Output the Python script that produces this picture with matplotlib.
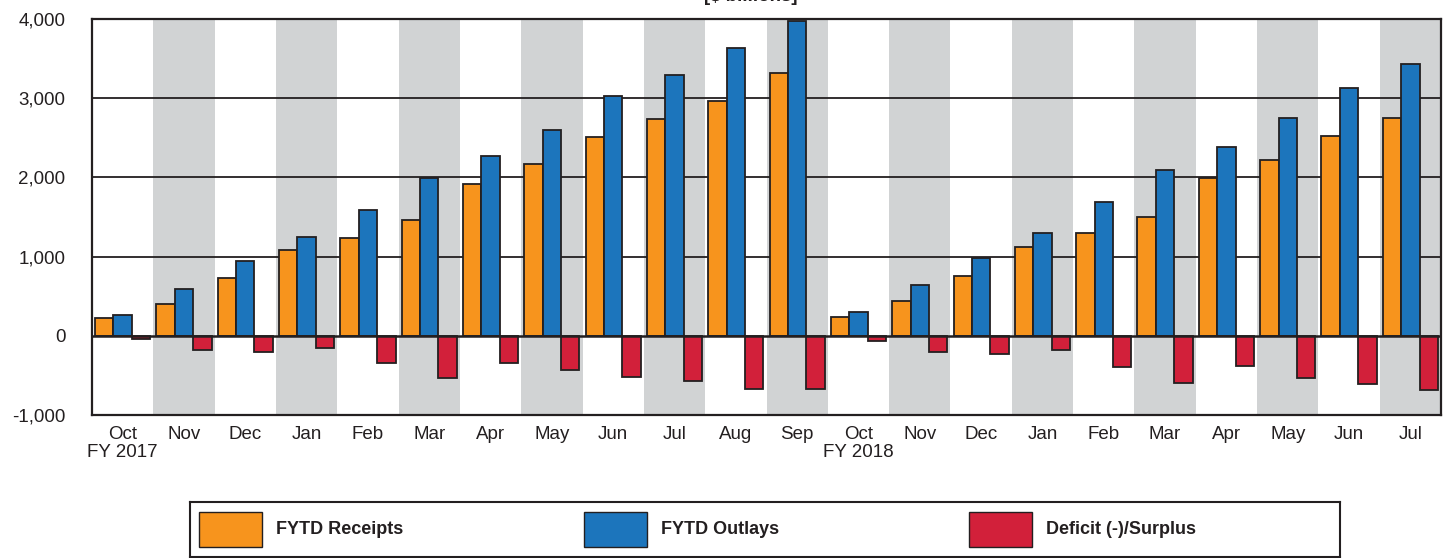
import numpy as np
import matplotlib
matplotlib.use('Agg')
import matplotlib.pyplot as plt
from matplotlib.patches import Rectangle

plt.rcParams['font.family'] = ['Liberation Sans', 'DejaVu Sans']

MONTHS = ['Oct\nFY 2017', 'Nov', 'Dec', 'Jan', 'Feb', 'Mar', 'Apr', 'May', 'Jun', 'Jul', 'Aug', 'Sep',
          'Oct\nFY 2018', 'Nov', 'Dec', 'Jan', 'Feb', 'Mar', 'Apr', 'May', 'Jun', 'Jul']

# fiscal year to date, $ billions
RECEIPTS = [221, 405, 735, 1087, 1237, 1465, 1920, 2170, 2508, 2732, 2960, 3315,
            235, 438, 760, 1122, 1297, 1497, 1998, 2222, 2525, 2752]
OUTLAYS = [266, 588, 942, 1245, 1586, 1992, 2264, 2603, 3031, 3298, 3634, 3981,
           298, 639, 985, 1298, 1688, 2097, 2383, 2754, 3132, 3436]
DEFICIT = [-45, -183, -207, -158, -349, -527, -344, -433, -523, -566, -674, -666,
           -63, -201, -225, -176, -391, -600, -385, -532, -607, -684]

YTICKS = [-1000, 0, 1000, 2000, 3000, 4000]
LABELS = ['FYTD Receipts', 'FYTD Outlays', 'Deficit (-)/Surplus']

ORANGE = '#F7941D'
BLUE = '#1C75BC'
RED = '#D2203A'
GREY = '#D1D3D4'
DARK = '#231F20'

fig = plt.figure(figsize=(14.5, 5.58), dpi=100)
ax = fig.add_axes([92/1450, 1-415/558, (1441-92)/1450, (415-19)/558])

x = np.arange(len(MONTHS))
w = 0.3

# alternating grey month bands
for i in x:
    if i % 2 == 1:
        ax.axvspan(i-0.5, i+0.5, color=GREY, lw=0, zorder=0)

for v in [1000, 2000, 3000]:
    ax.axhline(v, color=DARK, lw=1.3, zorder=1)

ax.bar(x-w, RECEIPTS, w, color=ORANGE, edgecolor=DARK, lw=1.3, zorder=2)
ax.bar(x, OUTLAYS, w, color=BLUE, edgecolor=DARK, lw=1.3, zorder=2)
ax.bar(x+w, DEFICIT, w, color=RED, edgecolor=DARK, lw=1.3, zorder=2)
ax.axhline(0, color=DARK, lw=1.8, zorder=3)

ax.set_xlim(-0.5, len(MONTHS)-0.5)
ax.set_ylim(-1000, 4000)
ax.set_yticks(YTICKS)
ax.set_yticklabels(['{:,}'.format(v) for v in YTICKS], fontsize=13.5, color=DARK)
ax.set_xticks(x)
ax.set_xticklabels(MONTHS, fontsize=13.5, color=DARK, linespacing=1.1)
ax.tick_params(axis='y', length=0, pad=19)
ax.tick_params(axis='x', length=0, pad=8)
for s in ax.spines.values():
    s.set_color(DARK)
    s.set_linewidth(1.6)
    s.set_zorder(4)

fig.text(751/1450, 1-5/558, '[$ billions]', ha='center', va='bottom',
         fontsize=13.5, fontweight='bold', color=DARK)

# legend box drawn by hand so the three entries sit at fixed column spacing
lax = fig.add_axes([190/1450, 1-557/558, 1150/1450, 55/558])
lax.set_xlim(0, 1150)
lax.set_ylim(0, 55)
lax.set_xticks([])
lax.set_yticks([])
for s in lax.spines.values():
    s.set_color(DARK)
    s.set_linewidth(1.5)
for k, (lab, col) in enumerate(zip(LABELS, [ORANGE, BLUE, RED])):
    x0 = 9 + k*385
    lax.add_patch(Rectangle((x0, 10), 63, 35, facecolor=col, edgecolor=DARK, lw=1.0))
    lax.text(x0+77, 27.5, lab, va='center', ha='left', fontsize=13,
             fontweight='bold', color=DARK)

fig.savefig('out.png', dpi=100)
